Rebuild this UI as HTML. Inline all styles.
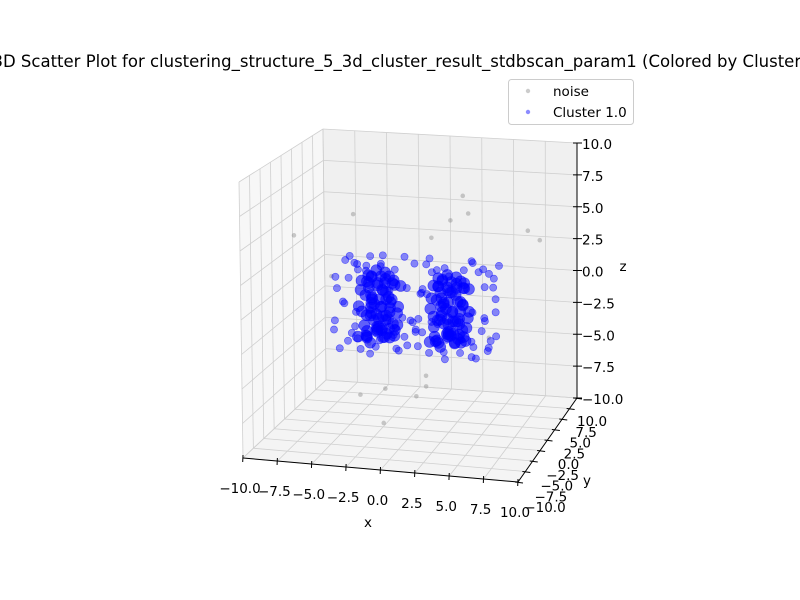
<!DOCTYPE html>
<html><head><meta charset="utf-8">
<style>
body{margin:0;background:#fff;}
svg{display:block;font-family:"DejaVu Sans","Liberation Sans",sans-serif;}
</style></head>
<body>
<svg id="chart" width="800" height="600" viewBox="0 0 800 600" xmlns="http://www.w3.org/2000/svg">
<rect width="800" height="600" fill="#fff"/>
<text x="400" y="67" font-size="16.5" text-anchor="middle">3D Scatter Plot for clustering_structure_5_3d_cluster_result_stdbscan_param1 (Colored by Cluster)</text>
<g id="panes"></g>
<g id="grid"></g>
<g id="axes"></g>
<g id="points"></g>
<text x="368" y="527" font-size="13.5" text-anchor="middle">x</text>
<text x="587" y="485" font-size="13.5" text-anchor="middle">y</text>
<text x="623" y="271" font-size="13.5" text-anchor="middle">z</text>
<g>
<rect x="508.5" y="79.5" width="125" height="45" rx="3" fill="#fff" fill-opacity="0.8" stroke="#ccc"/>
<circle cx="528" cy="91" r="2.2" fill="rgba(128,128,128,0.4)"/>
<text x="553" y="96" font-size="13.5">noise</text>
<circle cx="528" cy="112" r="2.2" fill="rgba(0,0,255,0.45)"/>
<text x="553" y="117" font-size="13.5">Cluster 1.0</text>
</g>
</svg>
<script>
const xTicks=[-10,-7.5,-5,-2.5,0,2.5,5,7.5,10];
const yTicks=[-10,-7.5,-5,-2.5,0,2.5,5,7.5,10];
const zTicks=[-10,-7.5,-5,-2.5,0,2.5,5,7.5,10];
const tickLabels=["\u221210.0","\u22127.5","\u22125.0","\u22122.5","0.0","2.5","5.0","7.5","10.0"];
const noisePts=[[-9.1,0,4.0],[-4.6,0,5.9],[3.7,0,7.8],[4.1,0,6.5],[2.75,0,5.9],[1.3,0,4.5],[8.6,0,5.5],[9.5,0,4.85],[-6.3,0,1.1],[1.9,0,1.1],[5.6,0,-2.7],[-3.5,0,-3.8],[-1.9,0,-1.65],[0.8,0,-5.9],[0.8,0,-6.7],[-2.3,0,-7.1],[0.05,0,-7.5],[-4.2,0,-7.7],[-2.45,0,-9.7]];
const leftCore=[
[-3.8,0.5,-3.0],[-3.5,-1.2,-2.1],[-3.1,1.4,-0.8],[-2.7,-0.3,0.9],[-2.2,0.8,-2.8],[-1.8,-1.5,-1.5],[-1.6,1.9,0.2],[-3.9,-0.7,0.4],[-3.3,0.2,1.2],[-2.9,-1.8,-3.2],[-2.5,1.1,-1.9],[-2.0,-0.6,-0.2],[-1.7,0.4,1.0],[-3.6,1.7,-2.5],[-3.0,-1.0,-1.2],[-2.4,0.0,0.3],[-1.9,1.3,-3.0],[-3.7,-1.9,-0.5],[-2.8,0.9,-3.0],[-2.1,-1.3,0.7],[-1.5,0.6,-2.4],[-3.4,0.1,-1.7],[-2.6,-0.9,-2.6],[-2.3,1.6,-1.0],[-3.2,-0.4,0.0],[-1.9,-0.1,-3.2],[-3.8,1.0,1.1],[-2.7,1.8,-0.3],[-2.0,0.3,-1.4],[-3.0,-1.6,1.2],[-1.6,-1.0,-0.7],[-3.5,0.7,-0.9],[-2.4,-1.9,-2.2],[-2.9,0.5,-2.0],[-2.2,-0.4,-3.1],[-3.3,-1.4,-2.8],[-1.8,1.0,0.5],[-2.6,0.2,1.3],[-3.6,-0.2,-3.2],[-2.1,1.5,-2.6],
[-3.9,-1.5,-2.9],[-3.6,0.9,-1.3],[-3.3,-0.6,0.6],[-3.0,1.9,-2.2],[-2.7,-1.3,-0.4],[-2.4,0.6,1.5],[-2.1,-0.2,-2.9],[-1.8,1.6,-1.8],[-1.5,-1.7,0.3],[-3.8,0.2,-0.2],[-3.5,-1.8,1.4],[-3.2,1.2,-3.0],[-2.9,-0.1,-1.5],[-2.6,1.4,0.8],[-2.3,-1.6,-2.0],[-2.0,0.9,-0.6],[-1.7,-0.8,1.6],[-1.6,0.1,-3.1],[-3.7,1.5,0.9],[-3.4,-0.9,-3.1],[-3.1,0.7,1.6],[-2.8,-1.5,0.1],[-2.5,-0.3,-0.9],[-2.2,1.8,0.4],[-1.9,-1.9,-2.7],[-3.9,0.8,-1.9],[-3.0,0.4,-2.6],[-2.0,-0.9,1.1],[-2.7,0.6,-1.1],[-3.5,-0.4,1.0],[-1.6,1.2,-1.2],[-2.3,-0.7,-2.4],[-3.3,1.6,0.2],[-2.9,-1.2,-0.1],[-2.1,0.2,-1.9],[-3.7,-1.1,-1.1]
];
const rightCore=[
[1.4,0.3,-3.0],[1.8,-1.4,-1.8],[2.2,1.2,-0.6],[2.6,-0.5,1.0],[3.1,0.9,-2.9],[3.5,-1.7,-1.2],[3.7,1.6,0.4],[1.5,-0.9,0.2],[2.0,0.4,1.3],[2.4,-1.9,-3.1],[2.9,1.3,-2.0],[3.3,-0.2,-0.1],[3.6,0.6,1.1],[1.7,1.8,-2.4],[2.3,-1.1,-1.0],[2.8,0.1,0.5],[3.4,1.1,-3.1],[1.6,-1.6,-0.4],[2.5,0.8,-3.0],[3.0,-1.2,0.8],[3.8,0.4,-2.2],[1.9,0.0,-1.6],[2.7,-0.8,-2.6],[3.2,1.7,-0.9],[2.1,-0.3,0.1],[3.5,-0.1,-3.2],[1.5,1.1,1.2],[2.6,1.9,-0.2],[3.3,0.2,-1.5],[2.2,-1.6,1.3],[3.7,-1.0,-0.6],[1.8,0.7,-0.8],[2.9,-1.9,-2.1],[2.4,0.5,-2.1],[3.1,-0.4,-3.2],[2.0,-1.3,-2.8],[3.5,1.0,0.6],[2.7,0.3,1.2],[1.6,-0.2,-3.2],[3.2,1.5,-2.7],
[1.5,-1.5,-2.9],[1.8,0.9,-1.3],[2.1,-0.6,0.6],[2.4,1.9,-2.2],[2.7,-1.3,-0.4],[3.0,0.6,1.5],[3.3,-0.2,-2.9],[3.6,1.6,-1.8],[3.9,-1.7,0.3],[1.6,0.2,-0.2],[1.9,-1.8,1.4],[2.2,1.2,-3.0],[2.5,-0.1,-1.5],[2.8,1.4,0.8],[3.1,-1.6,-2.0],[3.4,0.9,-0.6],[3.7,-0.8,1.6],[3.8,0.1,-3.1],[1.7,1.5,0.9],[2.0,-0.9,-3.1],[2.3,0.7,1.6],[2.6,-1.5,0.1],[2.9,-0.3,-0.9],[3.2,1.8,0.4],[3.5,-1.9,-2.7],[1.5,0.8,-1.9],[2.4,0.4,-2.6],[3.4,-0.9,1.1],[2.7,0.6,-1.1],[1.9,-0.4,1.0],[3.8,1.2,-1.2],[3.1,-0.7,-2.4],[2.1,1.6,0.2],[2.5,-1.2,-0.1],[3.3,0.2,-1.9],[1.7,-1.1,-1.1]
];
const leftShell=[
[-5.6,0.5,-0.9],[-5.4,-2.0,1.6],[-5.2,2.2,-3.2],[-5.0,-0.8,2.6],[-4.8,1.5,-3.9],[-4.6,-2.5,-0.2],[-4.4,0.2,2.1],[-4.2,2.6,-2.0],[-0.3,-1.1,-3.4],[-0.5,1.8,2.0],[-0.8,-2.4,-1.8],[-1.0,0.9,2.7],[-1.2,-0.2,-4.1],[-0.2,2.3,-0.4],[-5.7,-1.5,-2.5],[-5.3,1.0,0.8],[-4.9,-2.8,-3.5],[-4.5,2.9,1.3],[-3.9,-2.2,2.8],[-3.4,2.4,-4.2],[-2.9,-2.7,2.4],[-2.4,2.7,-3.8],[-1.9,-2.3,2.7],[-1.4,2.1,-3.7],[-3.7,1.2,2.5],[-3.0,0.0,-4.0],[-2.2,-1.2,2.6],[-1.6,0.6,-4.2],[-0.6,0.0,0.6],[-0.4,-2.0,-1.1],[-5.1,0.0,-3.7],[-5.5,2.0,2.2],[-0.9,2.6,-2.7],[-4.0,-0.5,-4.1],[-1.1,-2.9,1.1],[-5.8,-0.3,0.3],[-4.7,0.8,-1.7],[-0.7,1.3,-2.2],[-2.6,-2.9,-3.7],[-3.2,2.8,2.2],[-5.3,-2.6,-1.5],[-0.1,0.5,-2.8],[-4.3,-1.7,-2.6],[-1.3,-0.7,2.1],[-5.0,2.4,1.1]
];
const rightShell=[
[6.0,0.5,-0.9],[5.8,-2.0,1.6],[5.6,2.2,-3.2],[5.4,-0.8,2.6],[5.2,1.5,-3.9],[5.0,-2.5,-0.2],[4.8,0.2,2.1],[4.6,2.6,-2.0],[0.5,-1.1,-3.4],[0.4,1.8,2.0],[0.7,-2.4,-1.8],[0.9,0.9,2.7],[1.1,-0.2,-4.1],[0.3,2.3,-0.4],[6.1,-1.5,-2.5],[5.7,1.0,0.8],[5.3,-2.8,-3.5],[4.9,2.9,1.3],[4.3,-2.2,2.8],[3.8,2.4,-4.2],[3.3,-2.7,2.4],[2.8,2.7,-3.8],[2.3,-2.3,2.7],[1.8,2.1,-3.7],[4.1,1.2,2.5],[3.4,0.0,-4.0],[2.6,-1.2,2.6],[2.0,0.6,-4.2],[0.6,0.0,0.6],[0.8,-2.0,-1.1],[5.5,0.0,-3.7],[5.9,2.0,2.2],[1.0,2.6,-2.7],[4.4,-0.5,-4.1],[1.3,-2.9,1.1],[6.2,-0.3,0.3],[5.1,0.8,-1.7],[0.9,1.3,-2.2],[3.0,-2.9,-3.7],[3.6,2.8,2.2],[5.7,-2.6,-1.5],[0.4,0.5,-2.8],[4.7,-1.7,-2.6],[1.5,-0.7,2.1],[5.4,2.4,1.1]
];

const NS="http://www.w3.org/2000/svg";
const C=[[[[243,458],[239,182]],[[326,380],[323,129]]],[[[518,482],[515,200]],[[577,398],[577,143]]]];
function P(x,y,z){
  const u=(x+10)/20,v=(y+10)/20,w=(z+10)/20;
  const r=[0,0];
  for(let i=0;i<2;i++)for(let j=0;j<2;j++)for(let k=0;k<2;k++){
    const f=(i?u:1-u)*(j?v:1-v)*(k?w:1-w);
    r[0]+=f*C[i][j][k][0];r[1]+=f*C[i][j][k][1];
  }
  return r;
}
function mk(tag,attrs,parent){const e=document.createElementNS(NS,tag);for(const k in attrs)e.setAttribute(k,attrs[k]);parent.appendChild(e);return e;}
const panes=document.getElementById('panes'),grid=document.getElementById('grid'),axes=document.getElementById('axes'),pts=document.getElementById('points');
function poly(list,fill,name){
  const e=mk('polygon',{points:list.map(p=>p.join(',')).join(' '),fill:fill},panes);
  
  
}
poly([P(-10,10,-10),P(10,10,-10),P(10,10,10),P(-10,10,10)],'#f0f0f0','back-pane');
poly([P(-10,-10,-10),P(-10,10,-10),P(-10,10,10),P(-10,-10,10)],'#f7f7f7','left-pane');
poly([P(-10,-10,-10),P(10,-10,-10),P(10,10,-10),P(-10,10,-10)],'#f4f4f4','floor-pane');
function line(a,b,parent,stroke,sw,name){
  const e=mk('line',{x1:a[0],y1:a[1],x2:b[0],y2:b[1],stroke:stroke,'stroke-width':sw},parent);
  
  
}
const GC='#cfcfcf';
xTicks.forEach(t=>{line(P(t,10,-10),P(t,10,10),grid,GC,0.8,'gridline-x');line(P(t,-10,-10),P(t,10,-10),grid,GC,0.8,'gridline-x');});
yTicks.forEach(t=>{line(P(-10,t,-10),P(-10,t,10),grid,GC,0.8,'gridline-y');line(P(-10,t,-10),P(10,t,-10),grid,GC,0.8,'gridline-y');});
zTicks.forEach(t=>{line(P(-10,10,t),P(10,10,t),grid,GC,0.8,'gridline-z');line(P(-10,-10,t),P(-10,10,t),grid,GC,0.8,'gridline-z');});
line(P(-10,-10,-10),P(10,-10,-10),axes,'#000',1,'x-axis-line');
line(P(10,-10,-10),P(10,10,-10),axes,'#000',1,'y-axis-line');
line(P(10,10,-10),P(10,10,10),axes,'#000',1,'z-axis-line');
function label(x,y,txt,anchor,name){
  const e=mk('text',{x:x,y:y,'font-size':'13.5','text-anchor':anchor,'dominant-baseline':'central'},axes);
  e.textContent=txt;
  
  
}
xTicks.forEach((t,i)=>{const p=P(t,-10,-10);line([p[0],p[1]-3],[p[0]-0.3,p[1]+4],axes,'#000',1,'x-tick');label(p[0]-3,p[1]+31,tickLabels[i],'middle','x-tick-label');});
yTicks.forEach((t,i)=>{const p=P(10,t,-10);const f=(t+10)/20;line([p[0]-3,p[1]],[p[0]+5,p[1]+1],axes,'#000',1,'y-tick');label(p[0]+27-12*f,p[1]+26-2*f,tickLabels[i],'middle','y-tick-label');});
zTicks.forEach((t,i)=>{const p=P(10,10,t);line([p[0]-4,p[1]],[p[0]+5,p[1]],axes,'#000',1,'z-tick');label(p[0]+5,p[1]+2,tickLabels[i],'start','z-tick-label');});
noisePts.forEach(d=>{const p=P(d[0],d[1],d[2]);
  const c=mk('circle',{cx:p[0],cy:p[1],r:2.3,fill:'rgba(128,128,128,0.4)'},pts);
  
  
});
function drawCluster(arr,r,op,name){
  arr.forEach(d=>{const p=P(d[0],d[1],d[2]);
    const c=mk('circle',{cx:p[0],cy:p[1],r:r,fill:'rgba(0,0,255,'+op+')',stroke:'rgba(0,0,255,0.55)','stroke-width':0.6},pts);
    
    
  });
}
drawCluster(leftShell,3.6,0.45,'cluster-point');
drawCluster(rightShell,3.6,0.45,'cluster-point');
drawCluster(leftCore,5.5,0.6,'cluster-point');
drawCluster(rightCore,5.5,0.6,'cluster-point');
</script>
</body></html>
